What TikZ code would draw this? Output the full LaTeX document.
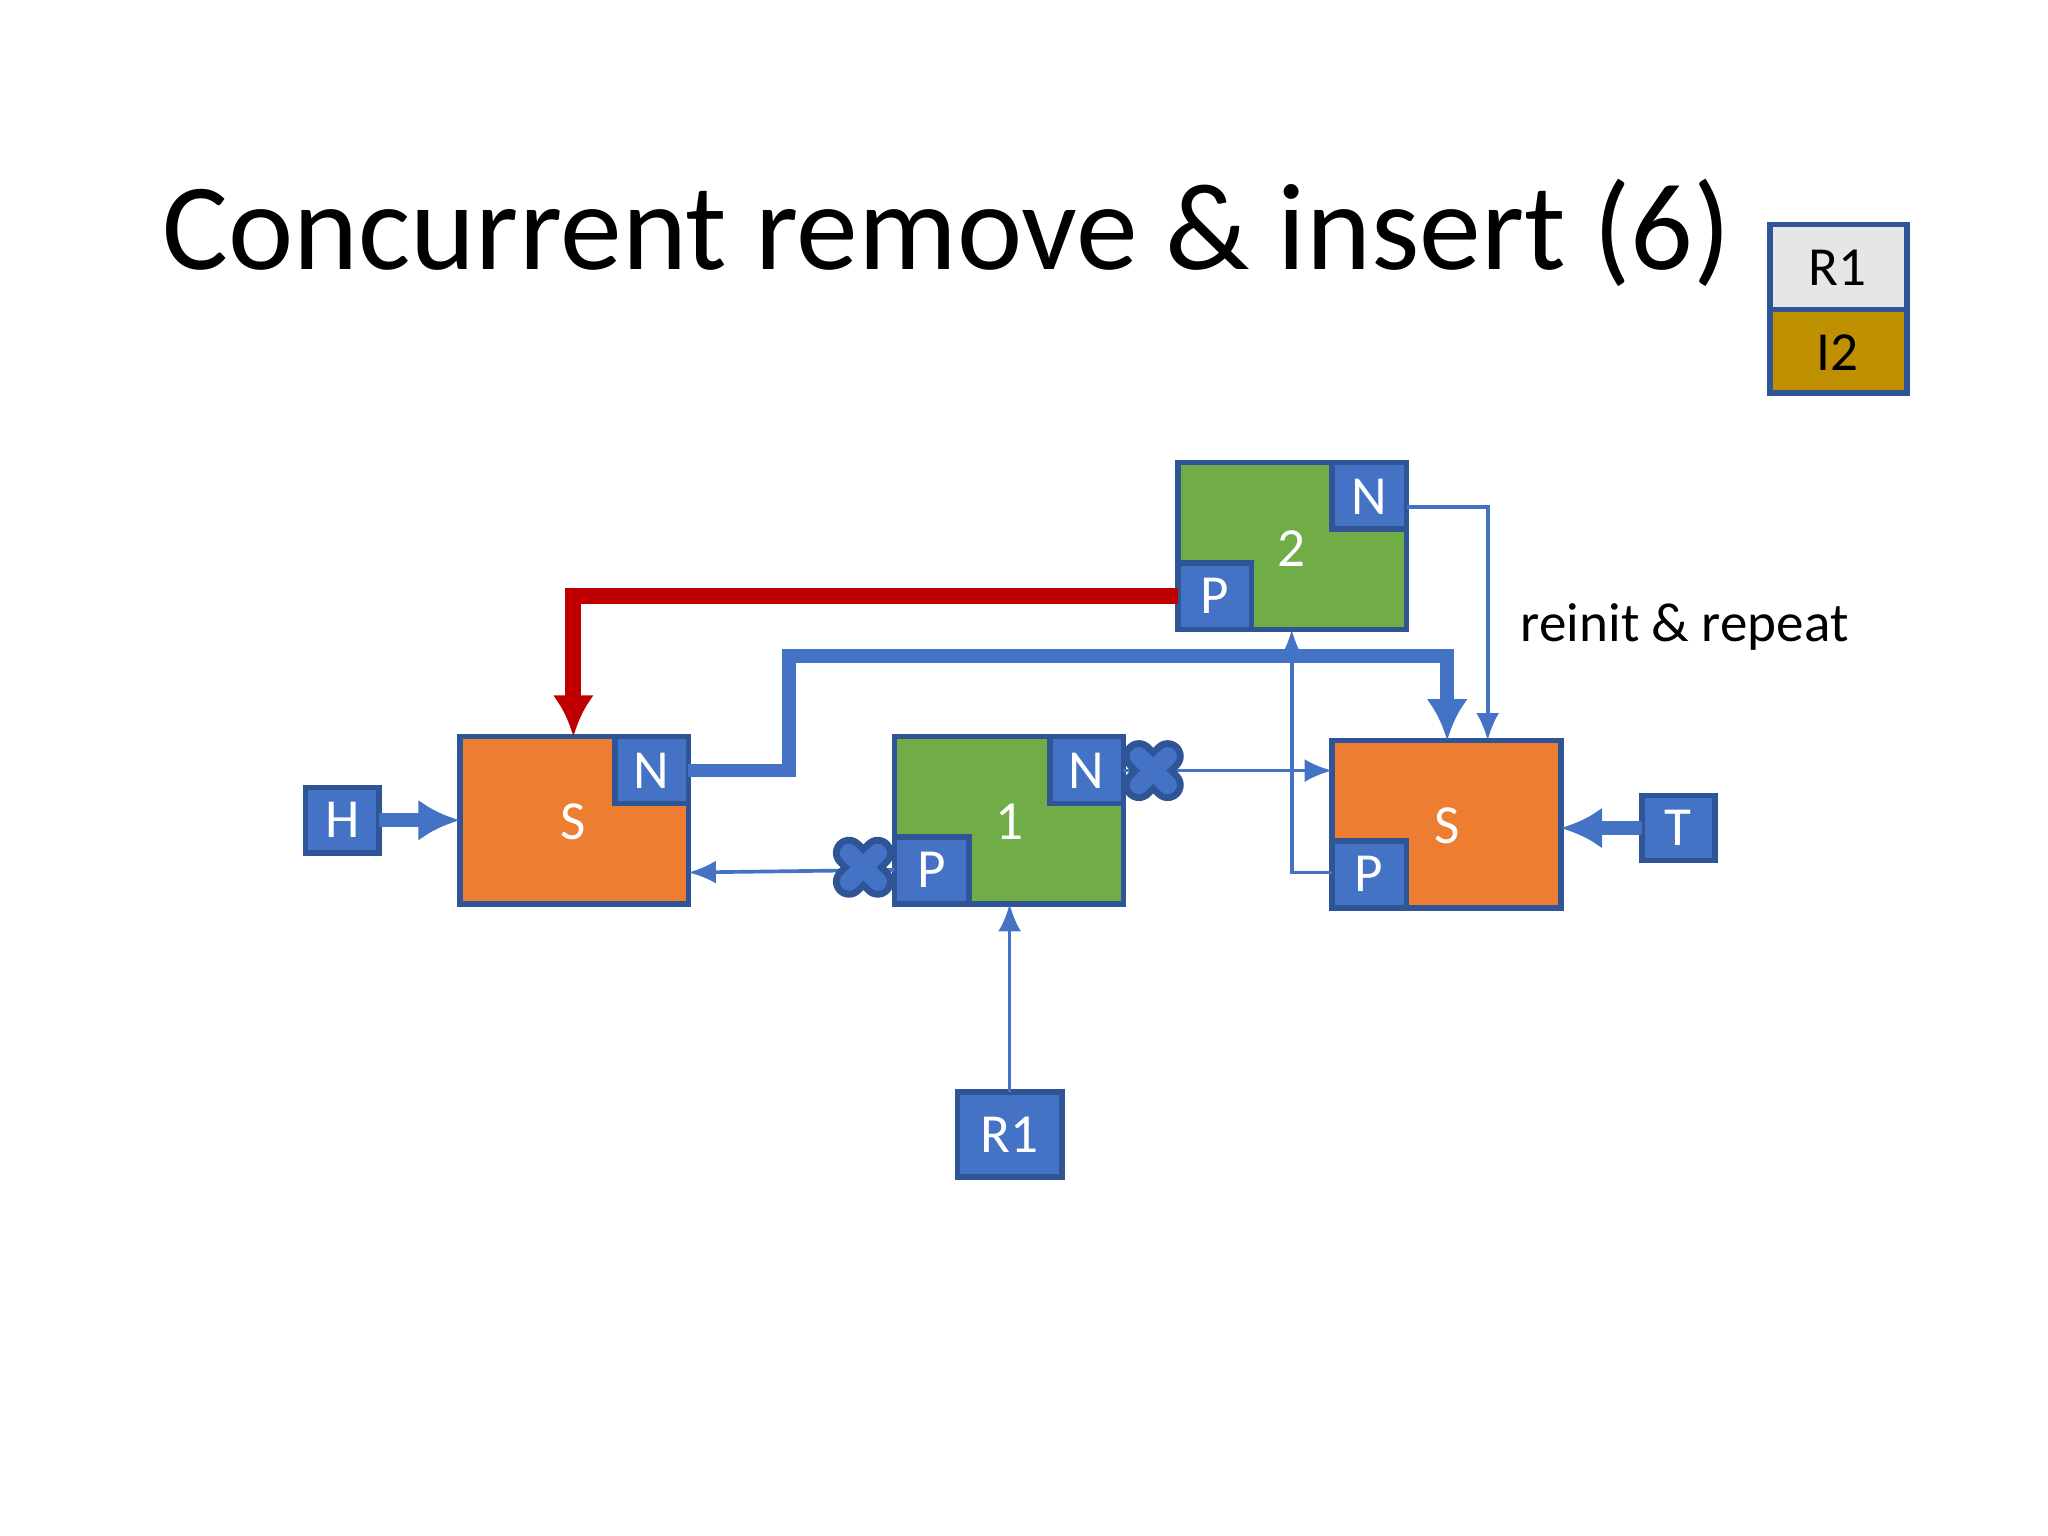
\documentclass[tikz,border=0pt]{standalone}
\usepackage{fontspec}
\setmainfont{Carlito}
\usetikzlibrary{arrows.meta}
\definecolor{bl}{HTML}{4472C4}
\definecolor{bd}{HTML}{2F5597}
\definecolor{og}{HTML}{ED7D31}
\definecolor{gr}{HTML}{70AD47}
\definecolor{rd}{HTML}{C00000}
\definecolor{lg}{HTML}{E7E6E6}
\definecolor{gd}{HTML}{BF9000}
\begin{document}
\begin{tikzpicture}[x=0.01cm,y=-0.01cm,
 box/.style={draw=bd,line width=1.2pt},
 lbl/.style={text=white,font=\fontsize{12}{14}\selectfont},
 thin/.style={bl,line width=0.8pt,-{Latex[length=6pt,width=5pt]}},
 thick/.style={bl,line width=3pt,-{Latex[length=9pt,width=9pt]}},
 xm/.style={bd,line width=7pt,line cap=round}]
\useasboundingbox (0,0) rectangle (1568,1176);
\fill[white] (0,0) rectangle (1568,1176);
\node (title) at (725,178) {\resizebox{12cm}{!}{Concurrent remove \& insert (6)}};
% legend
\draw[box,fill=lg] (1355,172) rectangle (1460,237);
\node (lr1) at (1407,205) {\fontsize{12}{14}\selectfont R1};
\draw[box,fill=gd] (1355,237) rectangle (1460,301);
\node (li2) at (1407,270) {\fontsize{12}{14}\selectfont I2};
% node 2
\draw[box,fill=gr] (902,354) rectangle (1077,482);
\draw[box,fill=bl] (1020,354) rectangle (1077,405);
\draw[box,fill=bl] (902,431) rectangle (958,482);
\node[lbl] (n2) at (989,420) {2};
\node[lbl] (n2N) at (1048,380) {N};
\node[lbl] (n2P) at (930,456) {P};
% S left
\draw[box,fill=og] (352,564) rectangle (527,692);
\draw[box,fill=bl] (471,564) rectangle (527,615);
\node[lbl] (sl) at (439,629) {S};
\node[lbl] (slN) at (499,590) {N};
% node 1
\draw[box,fill=gr] (685,564) rectangle (860,692);
\draw[box,fill=bl] (804,564) rectangle (860,615);
\draw[box,fill=bl] (685,641) rectangle (742,692);
\node[lbl] (n1) at (773,629) {1};
\node[lbl] (n1N) at (832,590) {N};
\node[lbl] (n1P) at (713,666) {P};
% S right
\draw[box,fill=og] (1020,567) rectangle (1195,695);
\draw[box,fill=bl] (1020,644) rectangle (1077,695);
\node[lbl] (sr) at (1108,632) {S};
\node[lbl] (srP) at (1048,669) {P};
% H T R1
\draw[box,fill=bl] (234,603) rectangle (290,653);
\node[lbl] (H) at (262,628) {H};
\draw[box,fill=bl] (1257,609) rectangle (1313,659);
\node[lbl] (T) at (1285,634) {T};
\draw[box,fill=bl] (733,836) rectangle (813,901);
\node[lbl] (R1) at (773,869) {R1};
% connectors
\draw[rd,line width=3.5pt,-{Latex[length=9pt,width=9pt]}] (902,456) -| (439,564);
\draw[thick] (527,590) -- (604,590) -- (604,502) -| (1108,567);
\draw[thin] (1077,388) -| (1139,567);
\node[anchor=west,font=\fontsize{12}{14}\selectfont] (rr) at (1152,480) {reinit \& repeat};
\draw[thin] (860,590) -- (1020,590);
\draw[thin] (685,666) -- (527,668);
\draw[thin] (1020,668) -| (989,482);
\draw[thin] (773,836) -- (773,692);
\draw[thick] (290,628) -- (352,628);
\draw[thick] (1257,634) -- (1195,634);
% crosses
\foreach \cx/\cy in {883/590,661/664}{
 \draw[xm] (\cx-11,\cy-11) -- (\cx+11,\cy+11) (\cx-11,\cy+11) -- (\cx+11,\cy-11);
 \draw[bl,line width=4pt,line cap=round] (\cx-11,\cy-11) -- (\cx+11,\cy+11) (\cx-11,\cy+11) -- (\cx+11,\cy-11);
}
\end{tikzpicture}
\end{document}
